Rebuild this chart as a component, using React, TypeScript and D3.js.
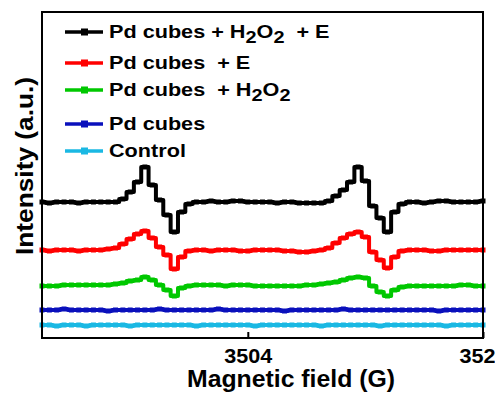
import { useEffect, useRef } from "react";
import * as d3 from "d3";

// magnetic field sampling points (G)
const FIELD = [
  3490, 3490.5, 3491, 3491.5, 3492, 3492.5, 3493, 3493.5, 3494, 3494.5,
  3495, 3495.5, 3496, 3496.5, 3497, 3497.5, 3498, 3498.5, 3499, 3499.5,
  3500, 3500.5, 3501, 3501.5, 3502, 3502.5, 3503, 3503.5, 3504, 3504.5,
  3505, 3505.5, 3506, 3506.5, 3507, 3507.5, 3508, 3508.5, 3509, 3509.5,
  3510, 3510.5, 3511, 3511.5, 3512, 3512.5, 3513, 3513.5, 3514, 3514.5,
  3515, 3515.5, 3516, 3516.5, 3517, 3517.5, 3518, 3518.5, 3519, 3519.5,
  3520,
];

// intensities (a.u., offset traces)
const PD_H2O2_E = [
  136, 135, 136, 136, 136, 135, 136, 136, 136, 136,
  136, 139, 146, 156, 171, 153, 138, 123, 106, 126, 134,
  136, 136, 137, 136, 136, 137, 137, 136, 136, 136, 136, 135, 136, 136, 135, 135, 135,
  135, 137, 142, 148, 156, 171, 157, 132, 120, 106, 126, 134,
  136, 136, 135, 136, 137, 137, 136, 136, 136, 136, 137,
];
const PD_E = [
  88, 87, 88, 88, 88, 87, 88, 88, 88,
  89, 90, 94, 99, 104, 107, 100, 91, 83, 69, 81, 87,
  88, 88, 87, 88, 88, 88, 87, 87, 88, 88, 88, 88, 87, 87, 86, 86, 87,
  88, 90, 95, 100, 104, 106, 101, 86, 78, 70, 81, 87,
  88, 88, 88, 87, 87, 88, 88, 88, 88, 88, 88,
];
const PD_H2O2 = [
  52, 52, 52, 53, 53, 53, 53, 53, 53, 53,
  54, 55, 57, 58, 61, 58, 53, 48, 42, 50, 52,
  53, 53, 53, 53, 52, 53, 53, 53, 52, 52, 52, 52, 52, 52, 52, 53, 53,
  54, 55, 56, 58, 60, 61, 60, 52, 46, 42, 48, 51,
  52, 52, 52, 52, 52, 52, 52, 53, 53, 52, 52,
];
const PD_ONLY = [
  28, 28, 28, 29, 28, 28, 28, 28, 28, 27, 28, 28, 28, 28, 28, 28, 29, 28, 28, 28,
  28, 28, 28, 28, 29, 28, 28, 28, 28, 28, 28, 28, 28, 27, 28, 28, 28, 28, 28, 28,
  28, 29, 28, 28, 28, 28, 28, 28, 28, 28, 28, 28, 28, 28, 27, 28, 28, 28, 28, 28, 28,
];
const CONTROL = [
  13, 13, 12, 13, 13, 13, 12, 13, 13, 13, 13, 13, 12, 13, 13, 13, 13, 13, 13, 13,
  13, 12, 13, 13, 13, 13, 13, 13, 13, 12, 13, 13, 13, 13, 13, 13, 13, 13, 12, 13,
  13, 13, 13, 13, 13, 13, 12, 13, 13, 13, 13, 13, 13, 13, 13, 12, 13, 13, 13, 13, 13,
];

const X_TICKS = [3504, 3520];

// label parts: [text, isSubscript]
type Part = [string, boolean];
const SERIES: { color: string; values: number[]; label: Part[] }[] = [
  { color: "#000000", values: PD_H2O2_E, label: [["Pd cubes + H", false], ["2", true], ["O", false], ["2", true], ["  + E", false]] },
  { color: "#ff0000", values: PD_E, label: [["Pd cubes  + E", false]] },
  { color: "#00c800", values: PD_H2O2, label: [["Pd cubes  + H", false], ["2", true], ["O", false], ["2", true]] },
  { color: "#0a10bc", values: PD_ONLY, label: [["Pd cubes", false]] },
  { color: "#1ab8e3", values: CONTROL, label: [["Control", false]] },
];

const FONT = "'Liberation Sans', Arial, Helvetica, sans-serif";

export default function App() {
  const svgRef = useRef<SVGSVGElement | null>(null);

  useEffect(() => {
    const svg = d3.select(svgRef.current);
    svg.selectAll("*").remove();

    const W = 495;
    const H = 397;
    const margin = { top: 12, right: 12, bottom: 59, left: 42 };
    const x = d3.scaleLinear().domain([3490, 3520]).range([margin.left, W - margin.right]);
    const y = d3.scaleLinear().domain([0, 326]).range([H - margin.bottom, margin.top]);

    svg.attr("viewBox", `0 0 ${W} ${H}`).attr("font-family", FONT);

    // traces
    const line = d3
      .line<number>()
      .x((_, i) => x(FIELD[i]))
      .y((d) => y(d))
      .curve(d3.curveStep);

    SERIES.slice().reverse().forEach((s) => {
      const g = svg.append("g");
      g.append("path")
        .attr("d", line(s.values))
        .attr("fill", "none")
        .attr("stroke", s.color)
        .attr("stroke-width", 4)
        .attr("stroke-linejoin", "round");
      g.selectAll("rect")
        .data(s.values)
        .join("rect")
        .attr("x", (_, i) => x(FIELD[i]) - 2.5)
        .attr("y", (d) => y(d) - 2.5)
        .attr("width", 5)
        .attr("height", 5)
        .attr("fill", s.color);
    });

    // frame
    svg.append("rect")
      .attr("x", margin.left)
      .attr("y", margin.top)
      .attr("width", W - margin.left - margin.right)
      .attr("height", H - margin.top - margin.bottom)
      .attr("fill", "none")
      .attr("stroke", "#000")
      .attr("stroke-width", 2);

    // x axis
    const ax = svg
      .append("g")
      .attr("transform", `translate(0,${H - margin.bottom})`)
      .call(d3.axisBottom(x).tickValues(X_TICKS).tickSizeInner(-6).tickSizeOuter(0).tickFormat(d3.format("d")));
    ax.select(".domain").remove();
    ax.selectAll(".tick line").attr("stroke", "#000").attr("stroke-width", 2);
    ax.selectAll(".tick text")
      .attr("y", 25)
      .attr("dy", 0)
      .attr("fill", "#000")
      .attr("font-size", 20)
      .attr("font-weight", "bold")
      .attr("font-family", FONT)
      .attr("textLength", 48)
      .attr("lengthAdjust", "spacingAndGlyphs");

    // axis titles
    svg.append("text")
      .attr("x", 291)
      .attr("y", 387)
      .attr("text-anchor", "middle")
      .attr("font-size", 23)
      .attr("font-weight", "bold")
      .attr("textLength", 208)
      .attr("lengthAdjust", "spacingAndGlyphs")
      .text("Magnetic field (G)");

    svg.append("text")
      .attr("transform", "translate(33,166) rotate(-90)")
      .attr("text-anchor", "middle")
      .attr("font-size", 23)
      .attr("font-weight", "bold")
      .attr("textLength", 178)
      .attr("lengthAdjust", "spacingAndGlyphs")
      .text("Intensity (a.u.)");

    // legend
    const rowY = [32, 63, 90, 124, 151];
    SERIES.forEach((s, i) => {
      const cy = rowY[i];
      svg.append("line")
        .attr("x1", 65)
        .attr("x2", 103)
        .attr("y1", cy)
        .attr("y2", cy)
        .attr("stroke", s.color)
        .attr("stroke-width", 3.5);
      svg.append("rect")
        .attr("x", 81)
        .attr("y", cy - 3.5)
        .attr("width", 7)
        .attr("height", 7)
        .attr("fill", s.color);
      const t = svg
        .append("g")
        .attr("transform", `translate(109,${cy + 6}) scale(1.17,1)`)
        .append("text")
        .attr("font-size", 18.5)
        .attr("font-weight", "bold")
        .style("white-space", "pre");
      s.label.forEach(([txt, sub], j) => {
        const prev = j > 0 ? s.label[j - 1] : null;
        const sp = t.append("tspan").text(txt);
        if (sub) sp.attr("font-size", 17);
        if (sub && !(prev && prev[1])) sp.attr("dy", 5);
        else if (!sub && prev && prev[1]) sp.attr("dy", -5);
      });
    });
  }, []);

  return (
    <svg
      ref={svgRef}
      width={495}
      height={397}
      style={{ position: "absolute", left: 0, top: 0, background: "#fff" }}
    />
  );
}
